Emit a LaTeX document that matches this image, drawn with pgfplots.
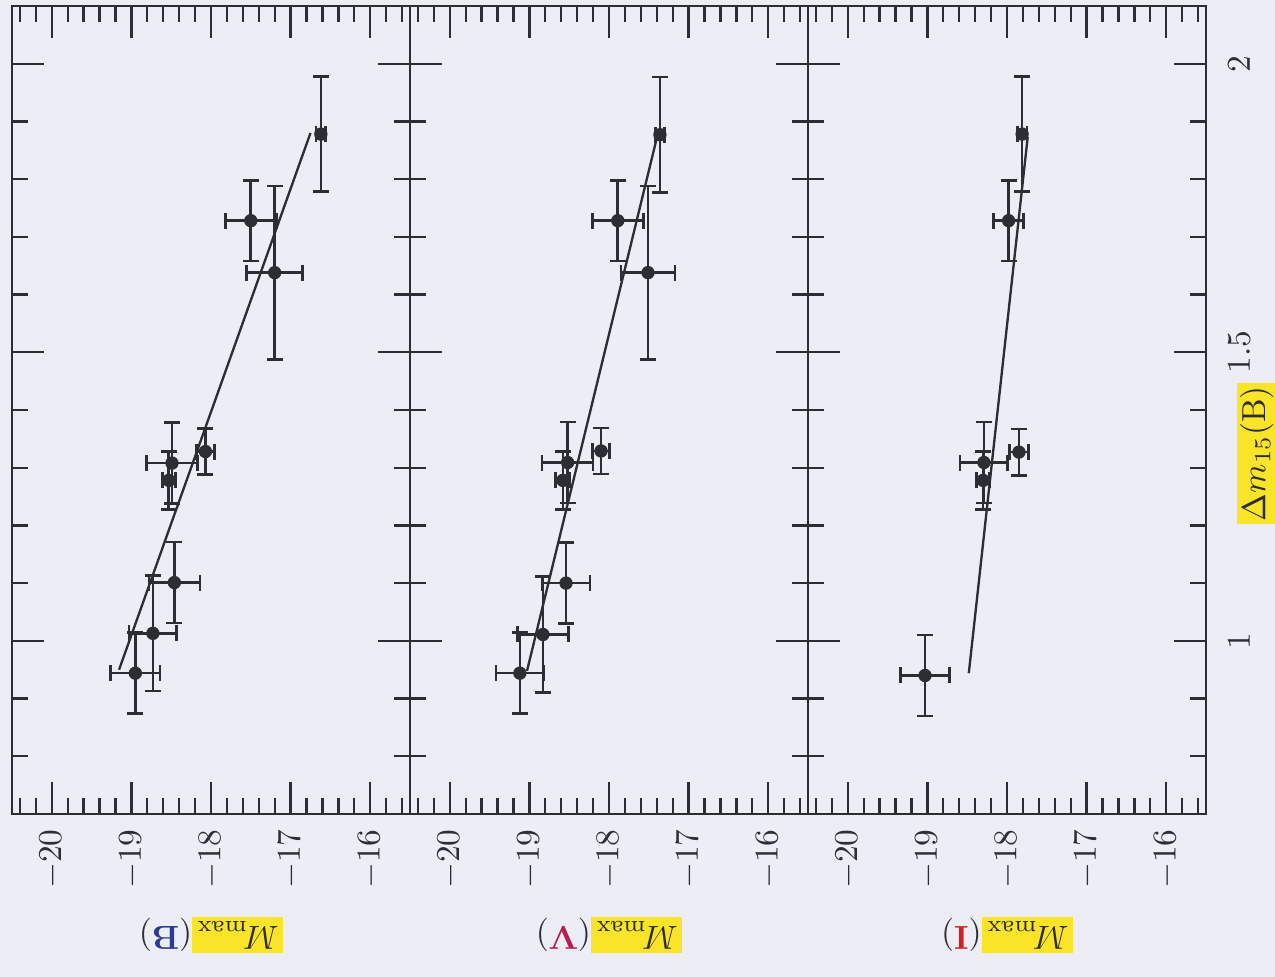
\documentclass[border=0pt]{standalone}
\usepackage{pgfplots}
\pgfplotsset{compat=1.18}
\definecolor{bg}{RGB}{237,237,246}
\definecolor{hl}{RGB}{250,228,40}
\definecolor{ink}{RGB}{45,45,52}
\definecolor{bmark}{RGB}{40,60,150}
\definecolor{vmark}{RGB}{185,30,80}
\definecolor{imark}{RGB}{205,35,35}
\pgfplotsset{
  panel/.style={
    scale only axis, width=119.4pt, height=242.4pt, anchor=north west,
    xmin=-20.5, xmax=-15.5, ymin=0.7, ymax=2.1,
    xtick={-20,-19,-18,-17,-16},
    minor xtick={-20.4,-20.2,-19.8,-19.6,-19.4,-19.2,-18.8,-18.6,-18.4,-18.2,-17.8,-17.6,-17.4,-17.2,-16.8,-16.6,-16.4,-16.2,-15.8,-15.6},
    ytick={1,1.5,2},
    minor ytick={0.7,0.8,0.9,1.1,1.2,1.3,1.4,1.6,1.7,1.8,1.9,2.1},
    major tick length=9.6pt, minor tick length=4.8pt,
    tick align=inside,
    axis line style={ink, line width=0.8pt},
    tick style={ink, line width=0.7pt},
    xticklabel style={rotate=90, anchor=east, text=ink, inner sep=4.5pt},
    every axis x label/.style={at={(axis description cs:0.5,-0.150)}, rotate=180, anchor=center, text=ink},
  },
  pts/.style={only marks, mark=*, mark size=1.8pt, ink, mark options={fill=ink},
    error bars/.cd, x dir=both, x explicit, y dir=both, y explicit,
    error bar style={line width=0.8pt, ink},
    error mark options={rotate=90, line width=0.8pt, mark size=2.4pt, ink}},
  fit/.style={ink, line width=0.7pt},
}
\begin{document}
\begin{tikzpicture}
\fill[bg] (0,0) rectangle (382.5pt,-293.1pt);
% ---- B ----
\begin{axis}[panel, at={(3.6pt,-1.8pt)}, yticklabels={},
  xlabel={\setlength{\fboxsep}{1.2pt}\colorbox{hl}{$M_{\rm max}$}(\textcolor{bmark}{\textbf{B}})}]
\addplot[fit] coordinates {(-19.155,0.950) (-16.75,1.880)};
\addplot[pts] coordinates {
 (-16.62,1.878) +- (0.06,0.10)
 (-17.50,1.728) +- (0.32,0.07)
 (-17.20,1.638) +- (0.35,0.15)
 (-18.07,1.328) +- (0.11,0.04)
 (-18.49,1.308) +- (0.32,0.07)
 (-18.53,1.278) +- (0.08,0.05)
 (-18.46,1.101) +- (0.32,0.07)
 (-18.73,1.013) +- (0.30,0.10)
 (-18.95,0.944) +- (0.31,0.07)
};
\end{axis}
% ---- V ----
\begin{axis}[panel, at={(123pt,-1.8pt)}, yticklabels={},
  xlabel={\setlength{\fboxsep}{1.2pt}\colorbox{hl}{$M_{\rm max}$}(\textcolor{vmark}{\textbf{V}})}]
\addplot[fit] coordinates {(-19.03,0.948) (-17.40,1.871)};
\addplot[pts] coordinates {
 (-17.36,1.877) +- (0.06,0.10)
 (-17.89,1.728) +- (0.32,0.07)
 (-17.51,1.638) +- (0.34,0.15)
 (-18.10,1.329) +- (0.11,0.04)
 (-18.52,1.309) +- (0.32,0.07)
 (-18.58,1.278) +- (0.09,0.05)
 (-18.54,1.100) +- (0.30,0.07)
 (-18.83,1.011) +- (0.32,0.10)
 (-19.12,0.944) +- (0.30,0.07)
};
\end{axis}
% ---- I ----
\begin{axis}[panel, at={(242.4pt,-1.8pt)},
  yticklabel pos=right,
  yticklabels={$1$,$1.5$,$2$},
  yticklabel style={rotate=90, anchor=north, text=ink, inner sep=6.5pt},
  xlabel={\setlength{\fboxsep}{1.2pt}\colorbox{hl}{$M_{\rm max}$}(\textcolor{imark}{\textbf{I}})},
  ylabel={$\Delta m_{15}$(B)},
  every axis y label/.style={at={(axis description cs:1.128,0.446)}, rotate=90, anchor=center, fill=hl, inner sep=1pt, text=ink}]
\addplot[fit] coordinates {(-18.48,0.944) (-17.74,1.873)};
\addplot[pts] coordinates {
 (-17.81,1.878) +- (0.06,0.10)
 (-17.98,1.728) +- (0.19,0.07)
 (-17.85,1.327) +- (0.12,0.04)
 (-18.29,1.309) +- (0.30,0.07)
 (-18.30,1.278) +- (0.08,0.05)
 (-19.03,0.940) +- (0.31,0.07)
};
\end{axis}
\pgfresetboundingbox
\path[use as bounding box] (0,0) rectangle (382.5pt,-293.1pt);
\end{tikzpicture}
\end{document}
